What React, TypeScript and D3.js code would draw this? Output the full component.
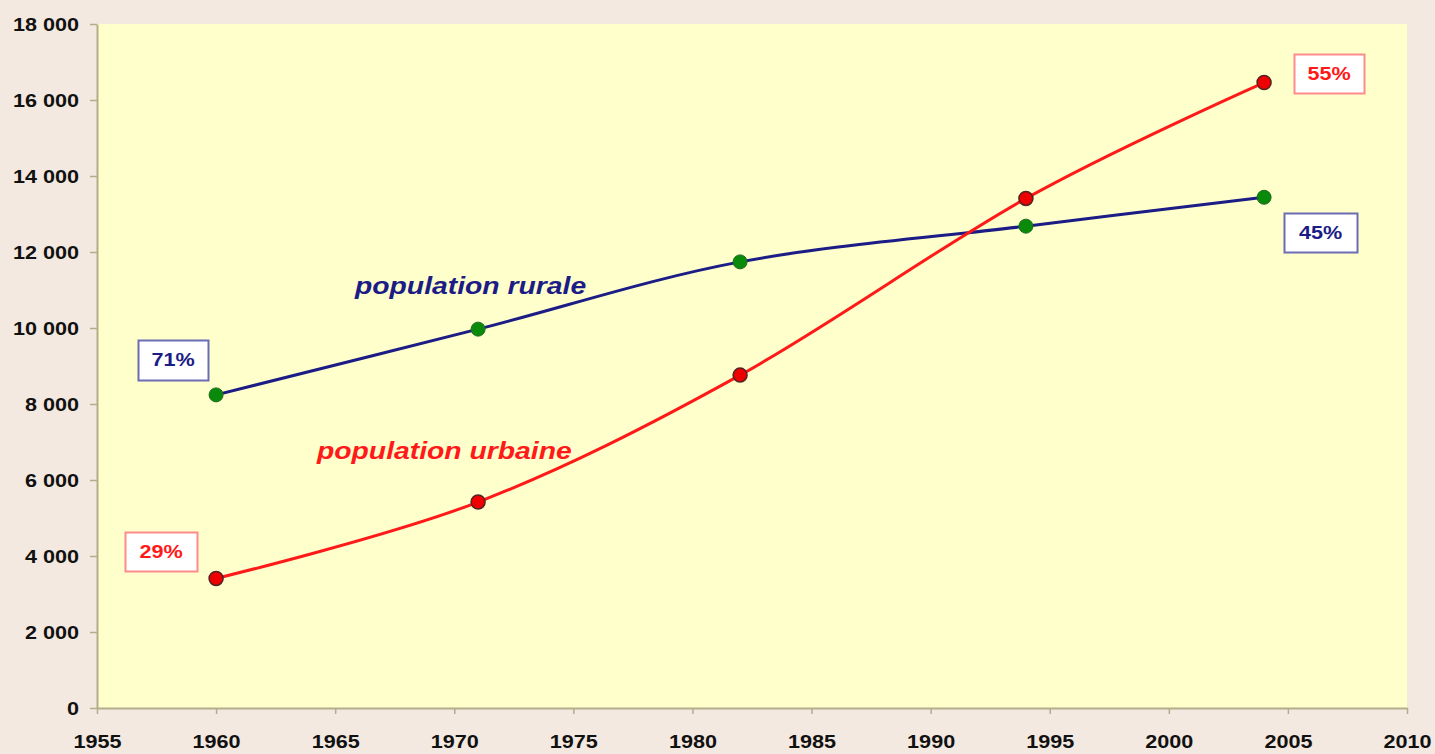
import React, { useEffect, useRef } from "react";
import * as d3 from "d3";

// Population (milliers) - recensements
const years = [1960, 1971, 1982, 1994, 2004];
const rurale = [8240, 9970, 11740, 12680, 13440];
const urbaine = [3410, 5420, 8760, 13410, 16460];
const xTicks = [1955, 1960, 1965, 1970, 1975, 1980, 1985, 1990, 1995, 2000, 2005, 2010];
const yTicks = [0, 2000, 4000, 6000, 8000, 10000, 12000, 14000, 16000, 18000];
const shareLabels = [
  { text: "71%", series: "rurale", x: 138, y: 340, w: 70, h: 40 },
  { text: "29%", series: "urbaine", x: 125, y: 532, w: 72, h: 39 },
  { text: "55%", series: "urbaine", x: 1294, y: 54, w: 70, h: 39 },
  { text: "45%", series: "rurale", x: 1284, y: 213, w: 73, h: 39 },
];

const width = 1435;
const height = 754;
const marginLeft = 97;
const marginRight = 28;
const marginTop = 24;
const marginBottom = 46;

const BLUE = "#1c1c86";
const RED = "#ff1a1a";
const STRETCH = 1.2; // texts look horizontally stretched in the source

const App = () => {
  const svgRef = useRef<SVGSVGElement>(null);

  useEffect(() => {
    if (!svgRef.current) return;
    const svg = d3.select(svgRef.current);
    svg.selectAll("*").remove();

    const x = d3.scaleLinear().domain([1955, 2010]).range([marginLeft, width - marginRight]);
    const y = d3.scaleLinear().domain([0, 18000]).range([height - marginBottom, marginTop]);

    // backgrounds
    svg.append("rect").attr("width", width).attr("height", height).attr("fill", "#f3e9e0");
    svg
      .append("rect")
      .attr("x", marginLeft)
      .attr("y", marginTop)
      .attr("width", width - marginLeft - marginRight)
      .attr("height", height - marginTop - marginBottom)
      .attr("fill", "#ffffcc");

    const axisColor = "#b4ad8c";
    const font = "'Liberation Sans', Arial, sans-serif";

    // X axis
    const gx = svg
      .append("g")
      .attr("transform", `translate(0,${height - marginBottom})`)
      .call(d3.axisBottom(x).tickValues(xTicks).tickFormat(d3.format("d")).tickSize(6).tickSizeOuter(0));
    gx.select(".domain").attr("stroke", axisColor).attr("stroke-width", 2);
    gx.selectAll(".tick line").attr("stroke", axisColor).attr("stroke-width", 1.5);
    gx.selectAll("text")
      .attr("y", 40)
      .attr("dy", 0)
      .attr("transform", `scale(${STRETCH},1)`)
      .style("font-family", font)
      .style("font-size", "18px")
      .style("font-weight", "bold")
      .attr("fill", "#111");

    // Y axis
    const fmt = (v: number) => d3.format(",")(v).replace(",", " ");
    const gy = svg
      .append("g")
      .attr("transform", `translate(${marginLeft},0)`)
      .call(d3.axisLeft(y).tickValues(yTicks).tickFormat((d) => fmt(d as number)).tickSize(7).tickSizeOuter(0));
    gy.select(".domain").attr("stroke", axisColor).attr("stroke-width", 2);
    gy.selectAll(".tick line").attr("stroke", axisColor).attr("stroke-width", 1.5);
    gy.selectAll("text")
      .attr("x", -15)
      .attr("dy", "0.36em")
      .attr("transform", `scale(${STRETCH},1)`)
      .style("font-family", font)
      .style("font-size", "18px")
      .style("font-weight", "bold")
      .attr("fill", "#111");

    // Lines
    const line = d3
      .line<number>()
      .x((_, i) => x(years[i]))
      .y((d) => y(d))
      .curve(d3.curveCatmullRom.alpha(0));

    svg.append("path").datum(rurale).attr("fill", "none").attr("stroke", BLUE).attr("stroke-width", 3).attr("d", line);
    svg.append("path").datum(urbaine).attr("fill", "none").attr("stroke", RED).attr("stroke-width", 3).attr("d", line);

    // Markers
    svg
      .append("g")
      .selectAll("circle")
      .data(rurale)
      .join("circle")
      .attr("cx", (_, i) => x(years[i]))
      .attr("cy", (d) => y(d))
      .attr("r", 7)
      .attr("fill", "#0a8a0a")
      .attr("stroke", "#1f6a1f")
      .attr("stroke-width", 1);
    svg
      .append("g")
      .selectAll("circle")
      .data(urbaine)
      .join("circle")
      .attr("cx", (_, i) => x(years[i]))
      .attr("cy", (d) => y(d))
      .attr("r", 7)
      .attr("fill", "#ee0000")
      .attr("stroke", "#552222")
      .attr("stroke-width", 1.5);

    // Series labels
    const seriesLabel = (text: string, lx: number, ly: number, color: string) =>
      svg
        .append("text")
        .attr("transform", `translate(${lx},${ly}) scale(1.18,1)`)
        .attr("fill", color)
        .style("font-family", font)
        .style("font-size", "24px")
        .style("font-weight", "bold")
        .style("font-style", "italic")
        .text(text);
    seriesLabel("population rurale", 355, 294, BLUE);
    seriesLabel("population urbaine", 317, 459, RED);

    // Share boxes
    const boxes = svg.append("g").selectAll("g").data(shareLabels).join("g");
    boxes
      .append("rect")
      .attr("x", (d) => d.x + 0.5)
      .attr("y", (d) => d.y + 0.5)
      .attr("width", (d) => d.w)
      .attr("height", (d) => d.h)
      .attr("fill", "#ffffff")
      .attr("stroke", (d) => (d.series === "rurale" ? "#6c6cb4" : "#ff8c8c"))
      .attr("stroke-width", 2);
    boxes
      .append("text")
      .attr("transform", (d) => `translate(${d.x + d.w / 2},${d.y + d.h / 2}) scale(${STRETCH},1)`)
      .attr("dy", "0.36em")
      .attr("text-anchor", "middle")
      .attr("fill", (d) => (d.series === "rurale" ? BLUE : RED))
      .style("font-family", font)
      .style("font-size", "18px")
      .style("font-weight", "bold")
      .text((d) => d.text);
  }, []);

  return (
    <div style={{ position: "fixed", left: 0, top: 0 }}>
      <svg ref={svgRef} width={width} height={height} style={{ display: "block" }}></svg>
    </div>
  );
};

export default App;
